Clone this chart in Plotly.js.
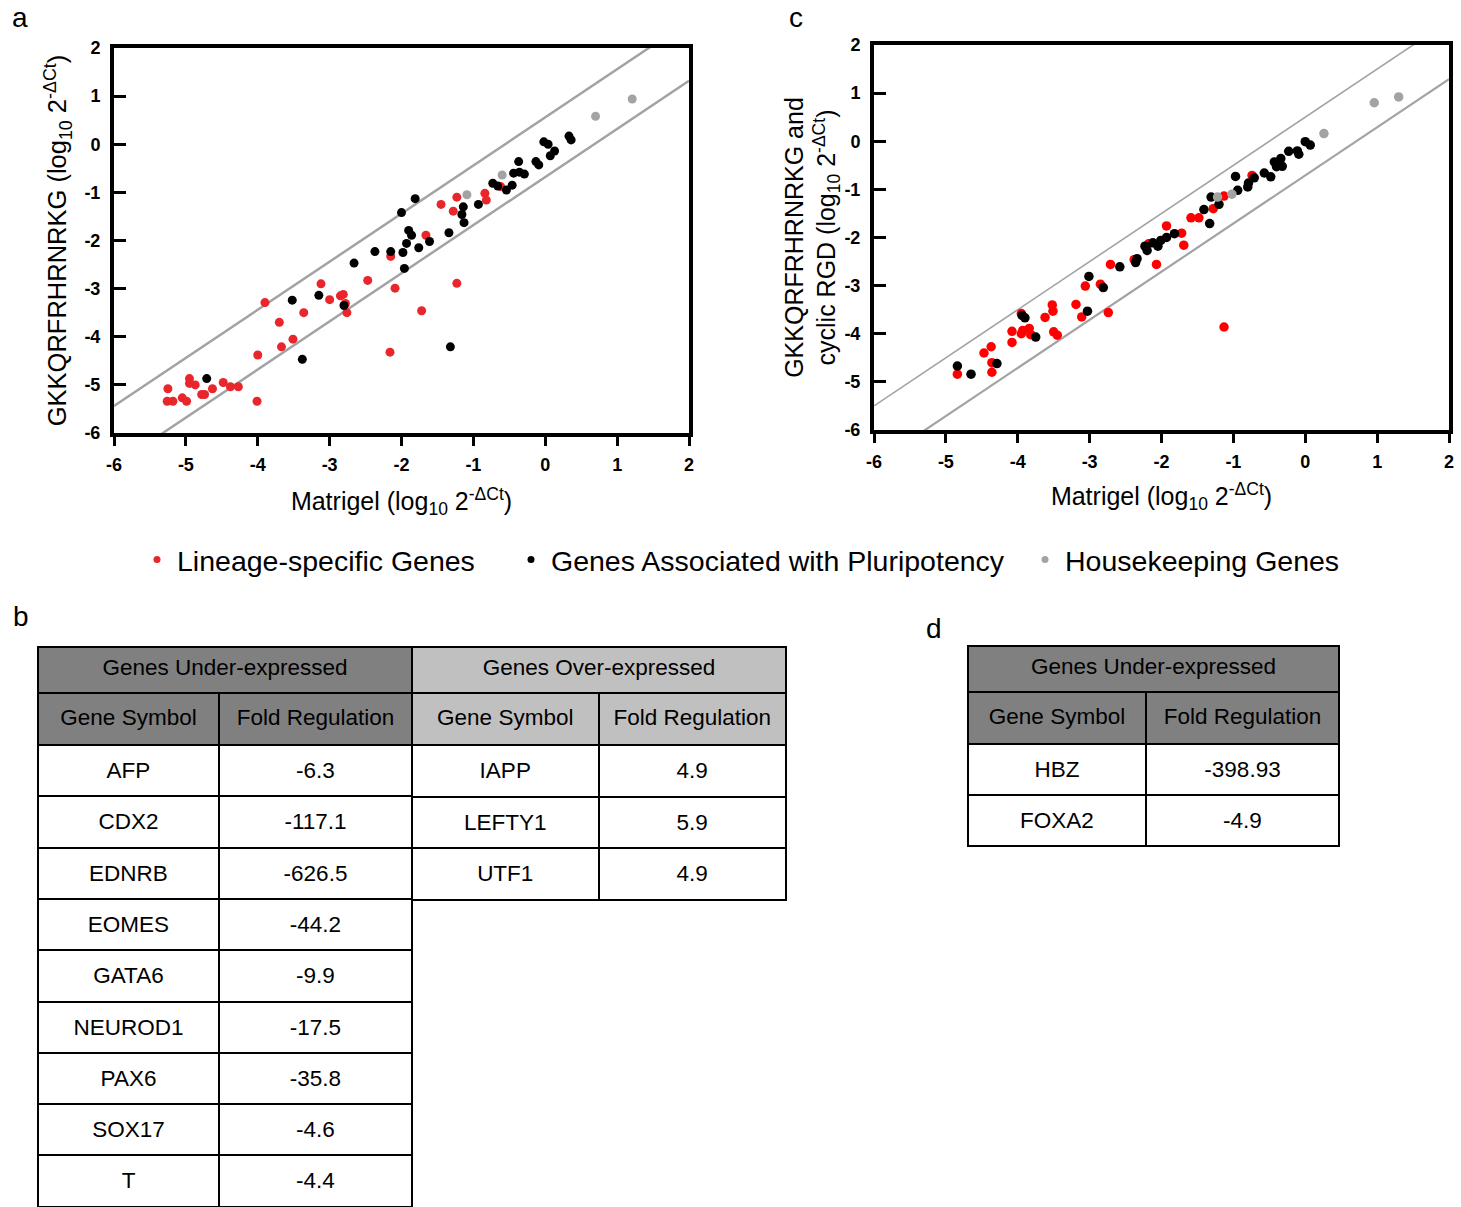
<!DOCTYPE html>
<html>
<head>
<meta charset="utf-8">
<script src="https://cdn.plot.ly/plotly-3.0.1.min.js"></script>
<style>html,body{margin:0;padding:0;background:#fff;}#chart{width:1461px;height:1207px;}</style>
</head>
<body>
<div id="chart"></div>
<script>
// ---------- Panel a data (Matrigel vs GKKQRFRHRNRKG) ----------
const aLineageX = [-5.25,-5.26,-5.18,-5.05,-4.99,-4.95,-4.95,-4.87,-4.78,-4.74,-4.63,-4.48,-4.38,-4.27,-4.01,-4.0,-3.90,-3.70,-3.67,-3.51,-3.36,-3.12,-3.0,-2.85,-2.81,-2.78,-2.76,-2.47,-2.15,-2.09,-2.16,-1.66,-1.72,-1.23,-1.45,-1.23,-1.28,-0.84,-0.82,-0.62];
const aLineageY = [-5.08,-5.34,-5.34,-5.27,-5.34,-4.87,-4.97,-5.0,-5.2,-5.2,-5.08,-4.95,-5.04,-5.04,-5.34,-4.38,-3.29,-3.70,-4.21,-4.05,-3.50,-2.90,-3.23,-3.15,-3.12,-3.31,-3.50,-2.83,-2.33,-2.99,-4.32,-1.89,-3.46,-2.89,-1.25,-1.10,-1.39,-1.02,-1.16,-0.88];
const aPluriX = [-4.71,-3.52,-3.38,-3.15,-2.80,-2.66,-2.37,-2.15,-1.98,-1.96,-1.93,-1.90,-1.86,-1.76,-1.61,-1.34,-1.32,-1.81,-2.0,-1.14,-1.16,-1.13,-0.93,-0.73,-0.66,-0.54,-0.46,-0.44,-0.37,-0.36,-0.29,-0.13,-0.09,-0.02,0.04,0.13,0.07,0.33,0.36];
const aPluriY = [-4.87,-3.24,-4.47,-3.14,-3.35,-2.47,-2.23,-2.23,-2.25,-2.58,-2.06,-1.79,-1.89,-2.15,-2.02,-1.84,-4.21,-1.13,-1.42,-1.30,-1.46,-1.63,-1.25,-0.81,-0.87,-0.95,-0.85,-0.60,-0.36,-0.58,-0.62,-0.36,-0.43,0.05,0.0,-0.14,-0.24,0.17,0.09];
const aHouseX = [-1.09,-0.60,0.70,1.21];
const aHouseY = [-1.05,-0.64,0.58,0.94];
const bandX = [-6, 2];
const aUpperY = [-5.44, 2.56];
const aLowerY = [-6.68, 1.32];

// ---------- Panel c data (Matrigel vs GKKQRFRHRNRKG and cyclic RGD) ----------
const cLineageX = [-4.84,-4.36,-4.36,-4.47,-4.37,-4.08,-4.08,-3.95,-3.93,-3.84,-3.82,-3.95,-3.62,-3.50,-3.45,-3.52,-3.51,-3.19,-3.11,-3.06,-2.85,-2.74,-2.71,-2.38,-2.07,-2.18,-1.72,-1.93,-1.59,-1.48,-1.28,-1.13,-0.74,-1.69,-1.13];
const cLineageY = [-4.84,-4.80,-4.60,-4.40,-4.27,-4.18,-3.95,-4.0,-3.93,-3.89,-4.02,-3.58,-3.66,-3.96,-4.03,-3.40,-3.53,-3.39,-3.65,-3.01,-2.97,-3.56,-2.56,-2.46,-2.56,-2.13,-1.91,-1.76,-1.59,-1.59,-1.40,-1.14,-0.71,-2.16,-3.86];
const cPluriX = [-4.84,-4.65,-4.29,-3.94,-3.90,-3.75,-3.03,-3.01,-2.81,-2.58,-2.36,-2.34,-2.23,-2.20,-2.12,-2.05,-2.01,-1.93,-1.82,-1.33,-1.41,-1.20,-1.31,-0.94,-0.97,-0.80,-0.79,-0.71,-0.57,-0.48,-0.43,-0.40,-0.34,-0.32,-0.23,-0.11,-0.09,0.0,0.07];
const cPluriY = [-4.67,-4.84,-4.62,-3.62,-3.67,-4.07,-3.53,-2.81,-3.04,-2.61,-2.52,-2.44,-2.18,-2.27,-2.11,-2.18,-2.06,-2.0,-1.92,-1.71,-1.42,-1.31,-1.16,-1.02,-0.73,-0.95,-0.87,-0.76,-0.66,-0.74,-0.43,-0.53,-0.36,-0.52,-0.21,-0.20,-0.27,-0.01,-0.08];
const cHouseX = [-1.22,-1.02,0.26,0.96,1.30];
const cHouseY = [-1.16,-1.10,0.16,0.80,0.92];
const cUpperY = [-5.5, 2.5];
const cLowerY = [-6.71, 1.29];

const tickVals = [-6,-5,-4,-3,-2,-1,0,1,2];
const tickText = ['-6','-5','-4','-3','-2','-1','0','1','2'];
const groupNames = ['Lineage-specific Genes', 'Genes Associated with Pluripotency', 'Housekeeping Genes'];

// ---------- Table b data ----------
const bUnderGenes = ['AFP','CDX2','EDNRB','EOMES','GATA6','NEUROD1','PAX6','SOX17','T'];
const bUnderFold = ['-6.3','-117.1','-626.5','-44.2','-9.9','-17.5','-35.8','-4.6','-4.4'];
const bOverGenes = ['IAPP','LEFTY1','UTF1'];
const bOverFold = ['4.9','5.9','4.9'];
// ---------- Table d data ----------
const dUnderGenes = ['HBZ','FOXA2'];
const dUnderFold = ['-398.93','-4.9'];

const colHeaders = ['Gene Symbol','Fold Regulation'];
const F = 'Liberation Sans, Arial, Helvetica, sans-serif';
const W = 1461, H = 1207;
const px = v => v / W;
const py = v => (H - v) / H;

const RED_A = '#e8262b', RED_C = '#ff0000', GRAY = '#a3a3a3';

const traces = [];
function scatterSet(xs, ys, color, size, xa, ya, name) {
  return {type:'scatter', mode:'markers', x:xs, y:ys, xaxis:xa, yaxis:ya, name:name,
    marker:{color:color, size:size, line:{width:0}}, showlegend:false, cliponaxis:false, hoverinfo:'skip'};
}
function bandLine(ys, width, xa, ya) {
  return {type:'scatter', mode:'lines', x:bandX, y:ys, xaxis:xa, yaxis:ya, showlegend:false,
    line:{color:GRAY, width:width}, hoverinfo:'skip'};
}
traces.push(bandLine(aUpperY, 2.5, 'x', 'y'));
traces.push(bandLine(aLowerY, 2.5, 'x', 'y'));
traces.push(bandLine(cUpperY, 1.6, 'x2', 'y2'));
traces.push(bandLine(cLowerY, 2.2, 'x2', 'y2'));
traces.push(scatterSet(aLineageX, aLineageY, RED_A, 9, 'x', 'y', groupNames[0]));
traces.push(scatterSet(aPluriX, aPluriY, '#000', 9, 'x', 'y', groupNames[1]));
traces.push(scatterSet(aHouseX, aHouseY, GRAY, 9, 'x', 'y', groupNames[2]));
traces.push(scatterSet(cLineageX, cLineageY, RED_C, 9.5, 'x2', 'y2', groupNames[0]));
traces.push(scatterSet(cPluriX, cPluriY, '#000', 9.5, 'x2', 'y2', groupNames[1]));
traces.push(scatterSet(cHouseX, cHouseY, GRAY, 9.5, 'x2', 'y2', groupNames[2]));
// legend entries (small dots), one legend per group
const legendColors = [RED_A, '#000', GRAY];
['legend','legend2','legend3'].forEach((lg, i) => {
  traces.push({type:'scatter', mode:'markers', x:[null], y:[null], xaxis:'x', yaxis:'y', name:groupNames[i],
    marker:{color:legendColors[i], size:7}, showlegend:true, legend:lg, hoverinfo:'skip'});
});

// ---------- Tables ----------
// Plotly tables top-align cell text; a taller hair-space on each side of the label
// enlarges the line box so the visible 22.5px text sits at the cell middle.
// (The <br> keeps Plotly from word-wrapping the markup.)
const TXT = 22.5;
const pad = sz => '<span style="font-size:' + sz + 'px">\u200A</span>';
const vc = sz => s => pad(sz) + s + pad(sz) + '<br>';
const vcTop = s => '<br><span style="font-size:' + TXT + 'px">' + s + '</span>';
const LINE = {color:'#000', width:2};
const tf = {family:F, size:TXT, color:'#000'};
const tfTop = {family:F, size:11.2, color:'#000'};
function headerOnly(text, fill, x0, x1, top, h) {
  return {type:'table', domain:{x:[px(x0), px(x1)], y:[py(top + h), py(top)]},
    header:{values:[[vcTop(text)]], height:h, fill:{color:fill}, line:LINE, font:tfTop, align:'center'},
    cells:{values:[[]], height:h, line:LINE, font:tfTop}};
}
function dataTable(cols, fill, x0, x1, widths, top, bottom, hh, ch) {
  return {type:'table', domain:{x:[px(x0), px(x1)], y:[py(bottom), py(top)]}, columnwidth:widths,
    header:{values:colHeaders.map(c => [vc(27)(c)]), height:hh, fill:{color:fill}, line:LINE, font:tf, align:'center'},
    cells:{values:cols.map(col => col.map(vc(28))), height:ch, fill:{color:'#fff'}, line:LINE, font:tf, align:'center'}};
}
traces.push(headerOnly('Genes Under-expressed', '#808080', 38, 412, 647, 46));
traces.push(headerOnly('Genes Over-expressed', '#c0c0c0', 412, 787, 647, 46));
traces.push(dataTable([bUnderGenes, bUnderFold], '#808080', 38, 412, [181,193], 693, 1207, 52, 51.3));
traces.push(dataTable([bOverGenes, bOverFold], '#c0c0c0', 412, 787, [187,188], 693, 905, 52, 51.5));
traces.push(headerOnly('Genes Under-expressed', '#808080', 968, 1339, 646, 46));
traces.push(dataTable([dUnderGenes, dUnderFold], '#808080', 968, 1339, [178,193], 692, 850, 52, 51));

const axTitle = 'Matrigel (log<sub>10</sub> 2<sup>-ΔCt</sup>)';
function xAxis(d0, d1, anchor, standoff) {
  return {domain:[px(d0), px(d1)], range:[-6,2], tickvals:tickVals, ticktext:tickText, anchor:anchor, showgrid:false, zeroline:false,
    showline:true, linewidth:4, linecolor:'#000', mirror:true, ticks:'outside', ticklen:9, tickwidth:3, tickcolor:'#000',
    tickfont:{family:F, size:18, weight:'bold', color:'#000'}, ticklabelstandoff:3,
    title:{text:axTitle, font:{family:F, size:25, color:'#000'}, standoff:standoff}};
}
function yAxis(top, bottom, anchor, title, standoff, size) {
  return {domain:[py(bottom), py(top)], range:[-6,2], tickvals:tickVals, ticktext:tickText, anchor:anchor, showgrid:false, zeroline:false,
    showline:true, linewidth:4, linecolor:'#000', mirror:true, ticks:'inside', ticklen:12, tickwidth:3, tickcolor:'#000',
    tickfont:{family:F, size:18, weight:'bold', color:'#000'}, ticklabelstandoff:6,
    title:{text:title, font:{family:F, size:size, color:'#000'}, standoff:standoff}};
}
const legendBase = {orientation:'h', yanchor:'middle', xanchor:'left', y:py(560), bgcolor:'rgba(0,0,0,0)',
  font:{family:F, size:28.5, color:'#000'}, borderwidth:0};

const layout = {
  width:W, height:H, margin:{l:0, r:0, t:0, b:0}, paper_bgcolor:'#fff', plot_bgcolor:'#fff',
  font:{family:F, color:'#000'},
  xaxis: xAxis(114, 689, 'y', 20),
  yaxis: yAxis(48, 433, 'x', 'GKKQRFRHRNRKG (log<sub>10</sub> 2<sup>-ΔCt</sup>)', 11, 25.5),
  xaxis2: xAxis(874, 1449, 'y2', 18),
  yaxis2: yAxis(45, 430, 'x2', 'GKKQRFRHRNRKG and<br>cyclic RGD (log<sub>10</sub> 2<sup>-ΔCt</sup>)', 0, 25),
  legend: Object.assign({}, legendBase, {x:px(137)}),
  legend2: Object.assign({}, legendBase, {x:px(511)}),
  legend3: Object.assign({}, legendBase, {x:px(1025)}),
  annotations: [
    {text:'a', x:px(20), y:py(18), xref:'paper', yref:'paper', showarrow:false, font:{family:F, size:28}, xanchor:'center', yanchor:'middle'},
    {text:'c', x:px(796), y:py(18), xref:'paper', yref:'paper', showarrow:false, font:{family:F, size:28}, xanchor:'center', yanchor:'middle'},
    {text:'b', x:px(21), y:py(616), xref:'paper', yref:'paper', showarrow:false, font:{family:F, size:28}, xanchor:'center', yanchor:'middle'},
    {text:'d', x:px(934), y:py(628), xref:'paper', yref:'paper', showarrow:false, font:{family:F, size:28}, xanchor:'center', yanchor:'middle'}
  ]
};
Plotly.newPlot('chart', traces, layout, {displayModeBar:false, staticPlot:true});
</script>
</body>
</html>
